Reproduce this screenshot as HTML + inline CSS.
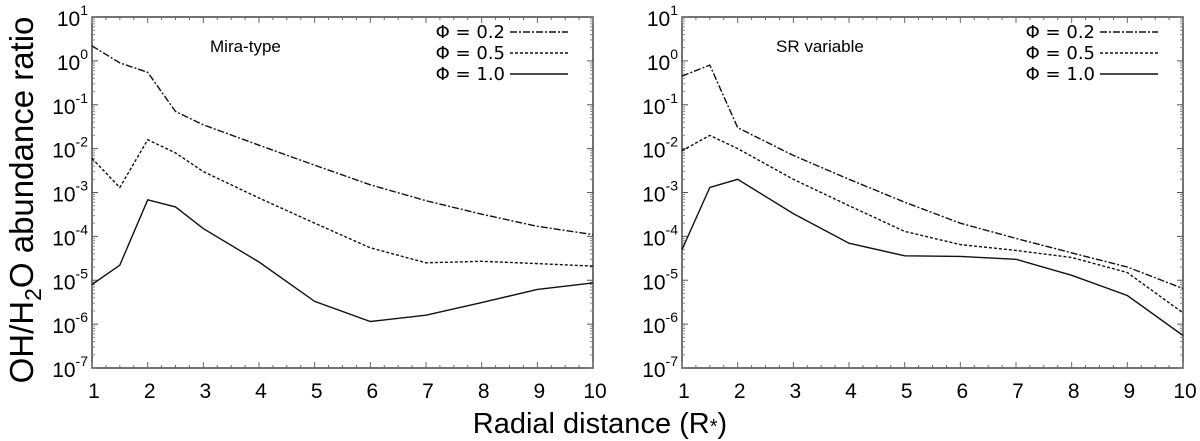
<!DOCTYPE html>
<html><head><meta charset="utf-8"><style>
body{margin:0;background:#fff;}
svg{display:block;font-family:"Liberation Sans","DejaVu Sans",sans-serif;}
</style></head><body>
<svg id="chart" width="1200" height="441">
<text x="0" y="0" transform="translate(33,200) rotate(-90)" text-anchor="middle" font-size="33">OH/H<tspan font-size="23" dy="8">2</tspan><tspan dy="-8">O abundance ratio</tspan></text>
<text x="600" y="433" text-anchor="middle" font-size="29">Radial distance (R<tspan font-size="20">*</tspan>)</text>
</svg>
<script>
const xs = [1,1.5,2,2.5,3,4,5,6,7,8,9,10];
const xsSR = [1,1.5,2,3,4,5,6,7,8,9,10];
const miraP02 = [2.2,0.9,0.55,0.07,0.035,0.012,0.0042,0.0015,0.00065,0.00032,0.00017,0.00011];
const miraP05 = [0.006,0.0013,0.016,0.008,0.003,0.00075,0.0002,5.5e-5,2.5e-5,2.7e-5,2.4e-5,2.1e-5];
const miraP10 = [8e-6,2.2e-5,6.8e-4,4.7e-4,1.5e-4,2.6e-5,3.3e-6,1.15e-6,1.6e-6,3.1e-6,6.2e-6,8.7e-6];
const srP02 = [0.45,0.8,0.03,0.007,0.002,0.0006,0.0002,9e-5,4.2e-5,2e-5,6.5e-6];
const srP05 = [0.009,0.02,0.01,0.002,0.0005,0.00013,6.5e-5,4.8e-5,3.3e-5,1.5e-5,1.8e-6];
const srP10 = [5e-5,0.0013,0.002,0.00033,7e-5,3.6e-5,3.5e-5,3e-5,1.3e-5,4.5e-6,5.5e-7];
const xTicks = [1,2,3,4,5,6,7,8,9,10];
const yExps = [1,0,-1,-2,-3,-4,-5,-6,-7];
const legendLabels = ["\u03A6 = 0.2","\u03A6 = 0.5","\u03A6 = 1.0"];

const svg = document.getElementById('chart');
const NS = 'http://www.w3.org/2000/svg';
const dashes = ["7,2,2,2","3,2",""];
function mk(tag, attrs){const e=document.createElementNS(NS,tag);for(const k in attrs)e.setAttribute(k,attrs[k]);svg.appendChild(e);return e;}

function panel(L,R,T,B,title,titleX,series,xv,key){
  const sx = v => L + (v-1)/9*(R-L);
  const sy = v => T + (1-Math.log10(v))/8*(B-T);
  const box = mk('rect',{x:L,y:T,width:R-L,height:B-T,fill:'none',stroke:'#444','stroke-width':1.5});
  
  
  for(let v=1; v<=10.001; v+=0.25){
    const big = Math.abs(v-Math.round(v))<1e-6;
    const len = big?6:3;
    mk('line',{x1:sx(v),x2:sx(v),y1:B,y2:B-len,stroke:'#666','stroke-width':1});
    mk('line',{x1:sx(v),x2:sx(v),y1:T,y2:T+len,stroke:'#666','stroke-width':1});
  }
  xTicks.forEach(t=>{
    const tx = mk('text',{x:sx(t)+2,y:B+30,'text-anchor':'middle','font-size':21});
    tx.textContent = t;
    
    
  });
  yExps.forEach(e=>{
    const y = sy(Math.pow(10,e));
    mk('line',{x1:L,x2:L+6,y1:y,y2:y,stroke:'#555'});
    mk('line',{x1:R,x2:R-6,y1:y,y2:y,stroke:'#555'});
    if(e>-7){for(let m=2;m<10;m++){const ym=sy(Math.pow(10,e-1)*m);
      mk('line',{x1:L,x2:L+3,y1:ym,y2:ym,stroke:'#888'});mk('line',{x1:R,x2:R-3,y1:ym,y2:ym,stroke:'#888'});}}
    const tx = mk('text',{x:L-4,y:y+9,'text-anchor':'end','font-size':21});
    tx.innerHTML = '10<tspan font-size="14" dy="-11">'+e+'</tspan>';
    
    
  });
  const tt = mk('text',{x:titleX,y:52,'font-size':17});
  tt.textContent = title;
  
  
  series.forEach((s,i)=>{
    const pts = s.map((v,j)=>sx(xv[j]).toFixed(1)+','+sy(v).toFixed(1)).join(' ');
    const pl = mk('polyline',{points:pts,fill:'none',stroke:'#111','stroke-width':1.4});
    if(dashes[i]) pl.setAttribute('stroke-dasharray',dashes[i]);
    
    
    const ly = 32 + i*21;
    const lt = mk('text',{x:R-88,y:ly+6,'text-anchor':'end','font-size':18,'font-family':'"DejaVu Sans",sans-serif'});
    lt.textContent = legendLabels[i];
    
    
    const ll = mk('line',{x1:R-83,x2:R-25,y1:ly,y2:ly,stroke:'#111','stroke-width':1.4});
    if(dashes[i]) ll.setAttribute('stroke-dasharray',dashes[i]);
    
    
  });
}
panel(92,593,17,368,'Mira-type',210,[miraP02,miraP05,miraP10],xs,'mira');
panel(682,1183,17,368,'SR variable',776,[srP02,srP05,srP10],xsSR,'sr');
</script>
</body></html>
